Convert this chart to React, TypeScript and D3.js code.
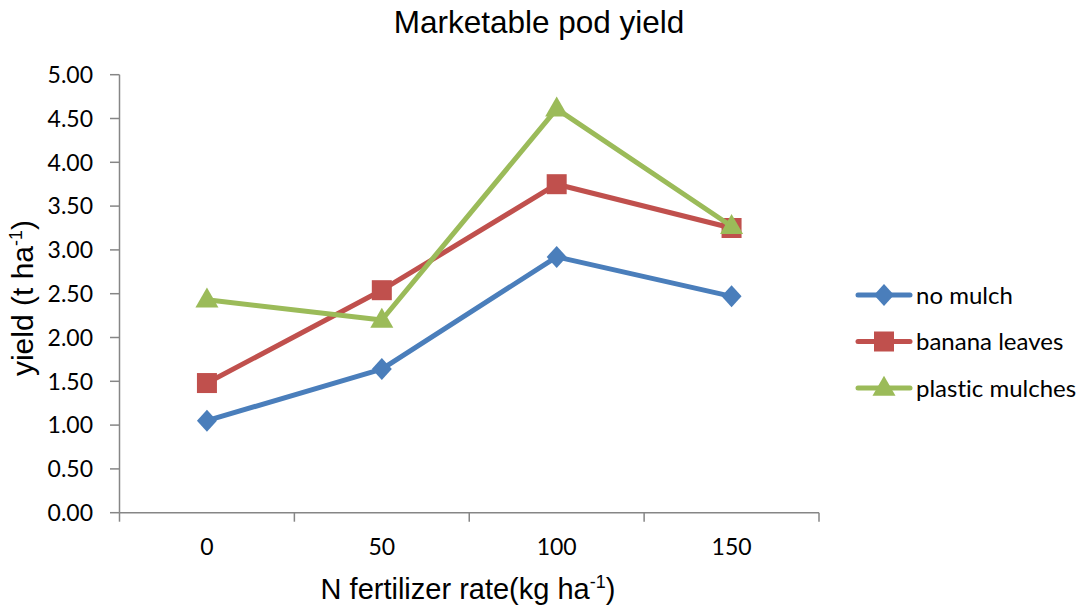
import React, { useEffect } from "react";
import * as d3 from "d3";

// N fertilizer rates (kg/ha)
const rates = ["0", "50", "100", "150"];
const seriesNames = ["no mulch", "banana leaves", "plastic mulches"];
const noMulch = [1.05, 1.64, 2.92, 2.47];
const bananaLeaves = [1.48, 2.54, 3.75, 3.25];
const plasticMulches = [2.43, 2.2, 4.61, 3.27];
const yTicks = [0, 0.5, 1, 1.5, 2, 2.5, 3, 3.5, 4, 4.5, 5];
const colors = ["#4A7EBB", "#C0504D", "#9BBB59"];
const markers = ["diamond", "square", "triangle"];

const W = 1088;
const H = 611;

const tickFont = "Lato, 'Open Sans', sans-serif";
const titleFont = "'Liberation Sans', Arial, sans-serif";

function Marker({ kind, x, y, color }: { kind: string; x: number; y: number; color: string }) {
  if (kind === "square") {
    return <rect x={x - 10} y={y - 10} width={20} height={20} fill={color} />;
  }
  if (kind === "triangle") {
    const p = d3.symbol(d3.symbolTriangle, 230)() || "";
    return <path d={p} transform={`translate(${x},${y + 1})`} fill={color} />;
  }
  return <path d={`M${x},${y - 11}L${x + 10},${y}L${x},${y + 11}L${x - 10},${y}Z`} fill={color} />;
}

export default function App() {
  useEffect(() => {
    document.body.style.margin = "0";
  }, []);

  const x = d3.scaleBand().domain(rates).range([119.5, 819]).padding(0);
  const y = d3.scaleLinear().domain([0, 5]).range([512.7, 74.7]);

  const series = [noMulch, bananaLeaves, plasticMulches];
  const line = d3
    .line<number>()
    .x((_, i) => (x(rates[i]) as number) + x.bandwidth() / 2)
    .y((d) => y(d));

  const bounds = [...rates.map((r) => x(r) as number), x.range()[1]];
  const noLig = { fontVariantLigatures: "none" } as React.CSSProperties;

  return (
    <svg width={W} height={H} style={{ display: "block", background: "#fff" }}>
      <text x={539} y={33} textAnchor="middle" fontFamily={titleFont} fontSize={31.5}>
        Marketable pod yield
      </text>

      {/* y axis */}
      <line x1={119.5} x2={119.5} y1={y(5)} y2={y(0)} stroke="#868686" strokeWidth={1.5} />
      {yTicks.map((t) => (
        <g key={t}>
          <line x1={110} x2={119.5} y1={y(t)} y2={y(t)} stroke="#868686" strokeWidth={1.5} />
          <text
            x={93}
            y={y(t)}
            dy="0.36em"
            textAnchor="end"
            fontFamily={tickFont}
            fontSize={23}
          >
            {t.toFixed(2)}
          </text>
        </g>
      ))}

      {/* x axis */}
      <line x1={119.5} x2={819} y1={y(0)} y2={y(0)} stroke="#868686" strokeWidth={1.5} />
      {bounds.map((b, i) => (
        <line key={i} x1={b} x2={b} y1={y(0)} y2={y(0) + 9} stroke="#868686" strokeWidth={1.5} />
      ))}
      {rates.map((r) => (
        <text
          key={r}
          x={(x(r) as number) + x.bandwidth() / 2}
          y={555}
          textAnchor="middle"
          fontFamily={tickFont}
          fontSize={23}
        >
          {r}
        </text>
      ))}

      <text x={468} y={599} textAnchor="middle" fontFamily={titleFont} fontSize={29}>
        N fertilizer rate(kg ha
        <tspan fontSize={18} dy={-11}>-1</tspan>
        <tspan dy={11}>)</tspan>
      </text>

      <text
        transform="translate(33,298) rotate(-90)"
        textAnchor="middle"
        fontFamily={titleFont}
        fontSize={30}
      >
        yield (t ha
        <tspan fontSize={18} dy={-11}>-1</tspan>
        <tspan dy={11}>)</tspan>
      </text>

      {/* series */}
      {series.map((s, si) => (
        <g key={seriesNames[si]}>
          <path d={line(s) || ""} fill="none" stroke={colors[si]} strokeWidth={5} strokeLinejoin="round" />
          {s.map((v, i) => (
            <Marker
              key={i}
              kind={markers[si]}
              x={(x(rates[i]) as number) + x.bandwidth() / 2}
              y={y(v)}
              color={colors[si]}
            />
          ))}
        </g>
      ))}

      {/* legend */}
      {seriesNames.map((n, i) => {
        const ly = 295 + i * 46.5;
        return (
          <g key={n}>
            <line x1={858} x2={910} y1={ly} y2={ly} stroke={colors[i]} strokeWidth={5} strokeLinecap="round" />
            <Marker kind={markers[i]} x={884} y={ly} color={colors[i]} />
            <text x={916} y={ly} dy="0.36em" fontFamily={tickFont} fontSize={24} style={noLig}>
              {n}
            </text>
          </g>
        );
      })}
    </svg>
  );
}
